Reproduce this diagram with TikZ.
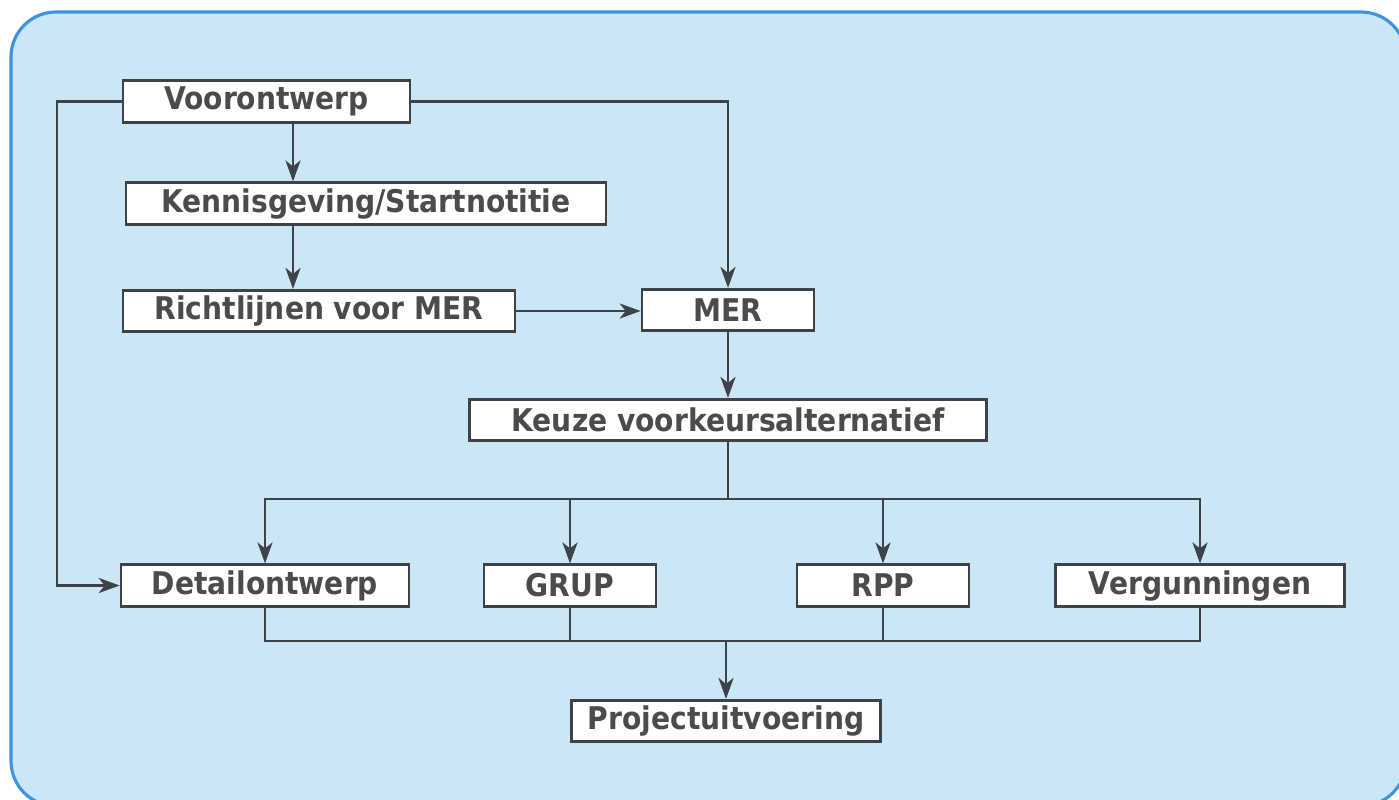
\documentclass[tikz,border=0pt]{standalone}
\usepackage{fontspec}
\setmainfont[FakeStretch=0.9]{DejaVu Sans}
\usepackage{tikz}
\usetikzlibrary{arrows.meta}
\definecolor{panel}{HTML}{CBE7F5}
\definecolor{rim}{HTML}{3F93DF}
\definecolor{ink}{HTML}{3E4349}
\definecolor{txt}{HTML}{4B4B4B}
\tikzstyle{stage}=[draw=ink, line width=1.5pt, fill=white, rectangle, minimum height=0.83cm, inner sep=0pt, text=txt, font=\fontsize{17.8}{20}\selectfont\bfseries]
\tikzstyle{link}=[draw=ink, line width=1.6pt, line cap=rect]
\tikzstyle{flow}=[draw=ink, line width=1.6pt, -{Stealth[length=4.2mm, width=3mm, inset=1.2mm]}]

\begin{document}
\begin{tikzpicture}[x=0.02cm, y=-0.02cm]
        \useasboundingbox (0,0) rectangle (1399,799);
        \begin{scope}
             \clip (0,0) rectangle (1399,799);
             \draw[rim, line width=1.8pt, fill=panel, rounded corners=0.9cm] (11,12) rectangle (1406,806);
        \end{scope}
        \node[stage, minimum width=5.74cm] (vo) at (266.5,101.5) {Voorontwerp};
        \node[stage, minimum width=9.6cm] (ken) at (366,203.5) {Kennisgeving/Startnotitie};
        \node[stage, minimum width=7.84cm] (richt) at (319,311) {Richtlijnen voor MER};
        \node[stage, minimum width=3.44cm] (mer) at (728,310) {MER};
        \node[stage, minimum width=10.34cm] (keuze) at (728,420) {Keuze voorkeursalternatief};
        \node[stage, minimum width=5.76cm] (det) at (265,585.5) {Detailontwerp};
        \node[stage, minimum width=3.44cm] (grup) at (570,585.5) {GRUP};
        \node[stage, minimum width=3.44cm] (rpp) at (883,585.5) {RPP};
        \node[stage, minimum width=5.78cm] (verg) at (1200,585.5) {Vergunningen};
        \node[stage, minimum width=6.18cm] (proj) at (726,721) {Projectuitvoering};
        \coordinate (lft) at (57,101.5); \coordinate (spine) at (293,0);
        \coordinate (top) at (0,499); \coordinate (low) at (0,641);
        \draw[flow] (vo.west) -- (lft) |- (det.west);
        \draw[flow] (vo.east) -| (mer.north);
        \draw[flow] (vo.south -| spine) -- (ken.north -| spine);
        \draw[flow] (ken.south -| spine) -- (richt.north -| spine);
        \draw[flow] (richt.east) -- (richt.east -| mer.west);
        \draw[flow] (mer.south) -- (keuze.north);
        \draw[link] (keuze.south) -- (keuze.south |- top);
        \draw[link] (det.north |- top) -- (verg.north |- top);
        \draw[link] (det.south |- low) -- (verg.south |- low);
        \foreach \n in {det,grup,rpp,verg} {
             \draw[flow] (\n.north |- top) -- (\n.north);
             \draw[link] (\n.south) -- (\n.south |- low);
        }
        \draw[flow] (proj.north |- low) -- (proj.north);
    \end{tikzpicture}
\end{document}
